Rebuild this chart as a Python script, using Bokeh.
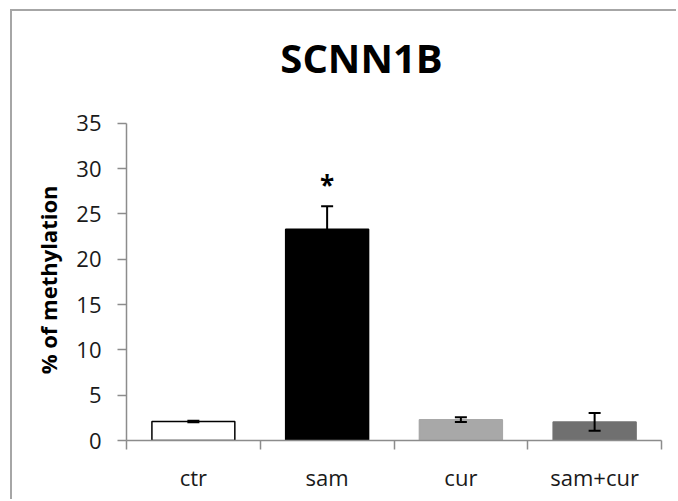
import numpy as np
from bokeh.plotting import figure
from bokeh.models import (ColumnDataSource, Range1d, FixedTicker, LinearAxis,
                          Whisker, TeeHead)
from bokeh.core.properties import value
from bokeh.embed import file_html
from bokeh.resources import INLINE

# ---- data ----
categories = ["ctr", "sam", "cur", "sam+cur"]
values = [2.1, 23.3, 2.3, 2.05]
errors = [0.08, 2.55, 0.27, 0.97]
significant = ["", "*", "", ""]
y_ticks = [0, 5, 10, 15, 20, 25, 30, 35]
title_text = "SCNN1B"
y_label = "% of methylation"

# ---- styles ----
bar_fills = ["#ffffff", "#000000", "#a8a8a8", "#707070"]
bar_lines = ["#000000", "#000000", "#a8a8a8", "#707070"]
grid_col = "#8c8c8c"
FONT = "Open Sans"
Y_TOP = 46.77          # extra head-room above the axis (holds the title)
TITLE_X, TITLE_Y = 1.757, 42.3
LABEL_PAD = "\u00a0" * 18   # keeps the axis title centred on the 0-35 part

n = len(categories)
xs = [i + 0.5 for i in range(n)]
upper = [v + e for v, e in zip(values, errors)]
lower = [v - e for v, e in zip(values, errors)]

src = ColumnDataSource(dict(x=xs, top=values, fill=bar_fills, line=bar_lines,
                            upper=upper, lower=lower))

p = figure(width=666, height=490, output_backend="svg", toolbar_location=None,
           x_range=Range1d(0, n), y_range=Range1d(y_ticks[0], Y_TOP),
           x_axis_type=None, y_axis_type=None,
           min_border_left=114, min_border_right=17, min_border_top=5,
           min_border_bottom=61)
p.outline_line_color = None
p.background_fill_color = "white"
p.border_fill_color = "white"
p.styles = {"margin-left": "10px", "margin-top": "9px",
            "border-left": "2px solid #a6a6a6", "border-top": "2px solid #a6a6a6"}

# y axis
yaxis = LinearAxis(ticker=FixedTicker(ticks=y_ticks, minor_ticks=[]),
                   bounds=(y_ticks[0], y_ticks[-1]))
yaxis.axis_line_color = grid_col
yaxis.axis_line_width = 1.5
yaxis.major_tick_line_color = grid_col
yaxis.major_tick_line_width = 1.5
yaxis.major_tick_out = 9
yaxis.major_tick_in = 0
yaxis.major_label_standoff = 16
yaxis.major_label_text_font = FONT
yaxis.major_label_text_font_size = "22px"
yaxis.major_label_text_color = "#1a1a1a"
yaxis.axis_label = y_label + LABEL_PAD
yaxis.axis_label_text_font = FONT
yaxis.axis_label_text_font_size = "22px"
yaxis.axis_label_text_font_style = "bold"
yaxis.axis_label_text_color = "#000000"
yaxis.axis_label_standoff = 10
p.add_layout(yaxis, "left")

# x axis
xaxis = LinearAxis(ticker=FixedTicker(ticks=xs, minor_ticks=list(range(n + 1))))
xaxis.major_label_overrides = {x: c for x, c in zip(xs, categories)}
xaxis.axis_line_color = grid_col
xaxis.axis_line_width = 1.5
xaxis.major_tick_line_color = None
xaxis.major_tick_out = 9
xaxis.major_tick_in = 0
xaxis.minor_tick_line_color = grid_col
xaxis.minor_tick_line_width = 1.5
xaxis.minor_tick_out = 9
xaxis.minor_tick_in = 0
xaxis.major_label_standoff = 12
xaxis.major_label_text_font = FONT
xaxis.major_label_text_font_size = "22px"
xaxis.major_label_text_color = "#1a1a1a"
p.add_layout(xaxis, "below")

p.ygrid.ticker = FixedTicker(ticks=y_ticks)
p.ygrid.grid_line_color = grid_col
p.ygrid.grid_line_width = 1.5
p.xgrid.visible = False

p.vbar(x="x", top="top", bottom=0, width=0.62, source=src,
       fill_color="fill", line_color="line", line_width=1.5)

w = Whisker(base="x", upper="upper", lower="lower", source=src,
            line_color="black", line_width=2, level="overlay",
            upper_head=TeeHead(size=12, line_color="black", line_width=2),
            lower_head=TeeHead(size=12, line_color="black", line_width=2))
p.add_layout(w)

star_src = ColumnDataSource(dict(x=xs, y=[u + 2.3 for u in upper], t=significant))
p.text(x="x", y="y", text="t", source=star_src, text_align="center",
       text_baseline="alphabetic", text_font=value(FONT), text_font_size="26px",
       text_font_style="bold", text_color="black")

# chart title
p.text(x=[TITLE_X], y=[TITLE_Y], text=[title_text], text_align="center",
       text_baseline="alphabetic", text_font=value(FONT), text_font_size="40px",
       text_font_style="bold", text_color="black")

open("out.html", "w").write(file_html(p, INLINE))
